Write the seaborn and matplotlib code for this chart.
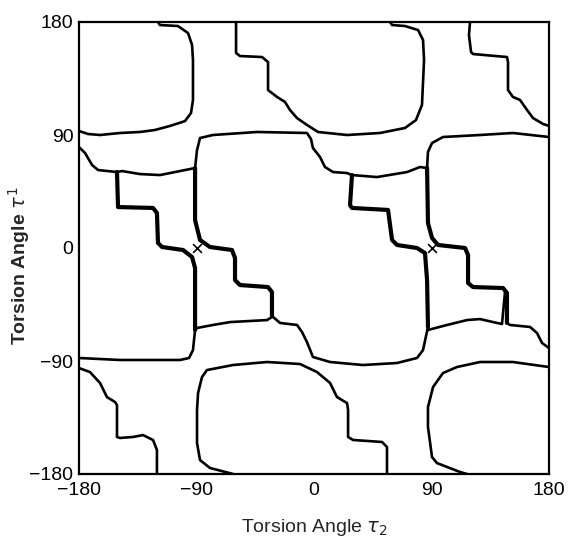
import seaborn as sns
import matplotlib.pyplot as plt
import pandas as pd

# contour traces, (tau2, tau1) in degrees
blob_top_left = [(-119.5, 180), (-118.0, 177.6), (-104.2, 176.8), (-96.5, 171.2), (-93.4, 161.7),
                 (-92.7, 149.7), (-92.7, 117.9), (-94.2, 107.5), (-98.8, 101.1), (-110.3, 97.2),
                 (-121.8, 94.0), (-133.3, 92.4), (-148.6, 91.6), (-163.9, 90.0), (-173.1, 90.8),
                 (-180, 93.2)]
stair_top_left = [(-59.7, 180), (-59.7, 155.3), (-56.7, 152.9), (-39.8, 152.1), (-35.2, 148.1),
                  (-35.2, 125.8), (-28.3, 120.3), (-22.2, 116.3), (-18.4, 109.9), (-13.0, 103.5),
                  (-5.4, 98.0), (3.1, 92.4), (25.3, 90.0), (50.6, 91.6), (69.7, 95.6),
                  (78.1, 101.9), (82.7, 113.9), (84.3, 149.7), (83.5, 165.7), (79.7, 173.6),
                  (69.7, 176.8), (59.8, 177.6), (58.2, 180)]
stair_top_right = [(119.5, 180), (118.7, 169.6), (120.3, 156.1), (121.8, 154.5), (147.8, 152.1),
                   (148.6, 148.1), (148.6, 125.8), (152.4, 120.3), (157.8, 117.9), (163.2, 109.9),
                   (167.8, 103.5), (175.4, 98.8), (180, 97.2)]
edge_left = [(-180, 80.4), (-175.4, 75.7), (-170.0, 66.1), (-165.4, 62.1), (-150.9, 60.5)]
chan_left_top = [(-150.9, 60.5), (-147.1, 61.3), (-133.3, 58.9), (-118.0, 58.1), (-102.6, 61.3),
                 (-91.1, 63.7)]
chan_left_bottom = [(-32.2, -55.0), (-36.0, -57.4), (-64.3, -59.0), (-77.4, -61.3), (-89.6, -63.7),
                    (-91.1, -65.3)]
blob_mid_top = [(-91.1, 63.7), (-89.6, 78.0), (-87.3, 87.6), (-77.4, 90.0), (-43.7, 92.4),
                (-5.4, 91.6), (-2.3, 86.8), (-0.8, 79.6), (4.6, 72.5), (8.4, 64.5), (14.6, 60.5),
                (25.3, 59.7), (29.1, 58.1)]
blob_mid_bottom = [(87.3, -62.9), (83.5, -81.3), (78.9, -87.6), (63.6, -91.6), (37.5, -93.2),
                   (12.3, -90.8), (-0.8, -86.8), (-5.4, -74.9), (-9.2, -66.9), (-13.0, -61.3),
                   (-26.0, -59.7), (-32.2, -54.2)]
chan_right_top = [(29.1, 58.1), (48.3, 56.5), (71.3, 60.5), (81.2, 64.5), (86.6, 63.7)]
chan_right_bottom = [(87.3, -65.3), (101.9, -61.3), (117.2, -57.4), (127.2, -56.6), (137.1, -59.0),
                     (144.0, -60.5), (146.3, -35.1)]
blob_right_top = [(180, 88.4), (152.4, 91.6), (127.2, 90.0), (98.8, 88.4), (90.4, 83.6),
                  (87.3, 76.5), (86.6, 63.7)]
blob_right_bottom = [(147.8, -59.7), (150.1, -61.3), (165.5, -62.9), (170.8, -67.7),
                     (174.7, -75.7), (180, -79.7)]
blob_left_bottom = [(-91.1, -65.3), (-92.7, -81.3), (-95.7, -87.6), (-102.6, -89.2),
                    (-148.6, -89.2), (-180, -87.6)]
stair_bottom_left = [(-180, -95.6), (-171.6, -98.8), (-163.9, -107.5), (-158.6, -118.7),
                     (-152.4, -122.7), (-150.9, -125.1), (-150.9, -150.5), (-148.6, -151.3),
                     (-138.6, -150.5), (-131.0, -149.0), (-123.3, -152.9), (-120.3, -160.9),
                     (-120.3, -180)]
blob_bottom_mid = [(-62.0, -180), (-79.7, -175.2), (-87.3, -168.9), (-89.6, -155.3),
                   (-89.6, -129.0), (-88.8, -115.5), (-85.8, -102.8), (-82.0, -97.2),
                   (-62.0, -93.2), (-36.0, -90.8), (-10.7, -92.4), (2.3, -98.8), (12.3, -107.5),
                   (17.6, -118.7), (25.3, -123.5), (26.1, -129.0), (26.1, -150.5), (29.9, -152.9),
                   (52.1, -154.5), (55.9, -158.5), (55.9, -180)]
blob_bottom_right = [(117.2, -180), (111.8, -178.4), (94.2, -171.3), (90.4, -166.5),
                     (87.3, -142.6), (87.3, -126.7), (91.2, -110.7), (98.8, -99.6),
                     (109.5, -94.8), (127.2, -90.8), (152.4, -90.8), (180, -94.8)]

# the doubled (heavy) staircase lines
stair_left_a = [(-150.9, 60.5), (-150.1, 32.6), (-123.3, 31.9), (-120.3, 27.9), (-119.5, 4.0),
                (-116.4, 0.8), (-100.3, -1.6), (-93.4, -7.2), (-91.1, -15.9), (-91.1, -65.3)]
stair_left_b = [(-91.1, 63.7), (-91.1, 22.3), (-87.3, 6.4), (-79.7, 0.8), (-62.8, -1.6),
                (-60.5, -8.0), (-60.5, -25.5), (-56.7, -29.5), (-35.2, -31.1), (-32.2, -35.1),
                (-32.2, -54.2)]
stair_right_a = [(29.1, 58.1), (27.6, 34.2), (29.1, 31.9), (56.7, 30.3), (59.8, 6.4), (63.6, 2.4),
                 (78.9, 0), (85.0, -4.0), (86.6, -25.5), (87.3, -62.9)]
stair_right_b = [(86.6, 63.7), (87.3, 19.9), (90.4, 8.0), (95.0, 2.4), (115.7, 0), (118.0, -5.6),
                 (118.0, -27.9), (121.8, -31.1), (144.8, -31.9), (147.8, -35.8), (147.8, -59.7)]

minima_tau2 = [-90, 90]
minima_tau1 = [0, 0]

ticks = [-180, -90, 0, 90, 180]

thin = [blob_top_left, stair_top_left, stair_top_right, edge_left, chan_left_top, chan_left_bottom,
        blob_mid_top, blob_mid_bottom, chan_right_top, chan_right_bottom, blob_right_top,
        blob_right_bottom, blob_left_bottom, stair_bottom_left, blob_bottom_mid, blob_bottom_right]
thick = [stair_left_a, stair_left_b, stair_right_a, stair_right_b]


def to_frame(curves):
    rows = []
    for k, c in enumerate(curves):
        for t2, t1 in c:
            rows.append({"curve": k, "tau2": t2, "tau1": t1})
    return pd.DataFrame(rows)


sns.set_style("white")
plt.rcParams["font.family"] = ["Liberation Sans", "DejaVu Sans"]

fig = plt.figure(figsize=(5.70, 5.39), dpi=100)
ax = fig.add_axes([79 / 570, 1 - 474 / 539, 470 / 570, 452 / 539])

sns.lineplot(data=to_frame(thin), x="tau2", y="tau1", units="curve", estimator=None,
             sort=False, color="black", lw=1.9, ax=ax)
sns.lineplot(data=to_frame(thick), x="tau2", y="tau1", units="curve", estimator=None,
             sort=False, color="black", lw=3.0, ax=ax)
sns.scatterplot(x=minima_tau2, y=minima_tau1, marker="x", color="black", s=40,
                linewidth=1.2, ax=ax)

ax.set_xlim(-180, 180)
ax.set_ylim(-180, 180)
ax.set_xticks(ticks)
ax.set_yticks(ticks)
ax.tick_params(length=0, labelsize=14, colors="black")
ax.tick_params(axis="x", pad=6)
ax.tick_params(axis="y", pad=4)
for s in ax.spines.values():
    s.set_visible(True)
    s.set_color("black")
    s.set_linewidth(1.6)

ax.set_xlabel(r"Torsion Angle $\tau_2$", fontsize=14)
ax.set_ylabel(r"Torsion Angle $\tau^1$", fontsize=14, fontweight="bold")
ax.xaxis.set_label_coords(0.5, -0.095)
ax.yaxis.set_label_coords(-0.10, 0.46)

fig.savefig("out.png", dpi=100)
